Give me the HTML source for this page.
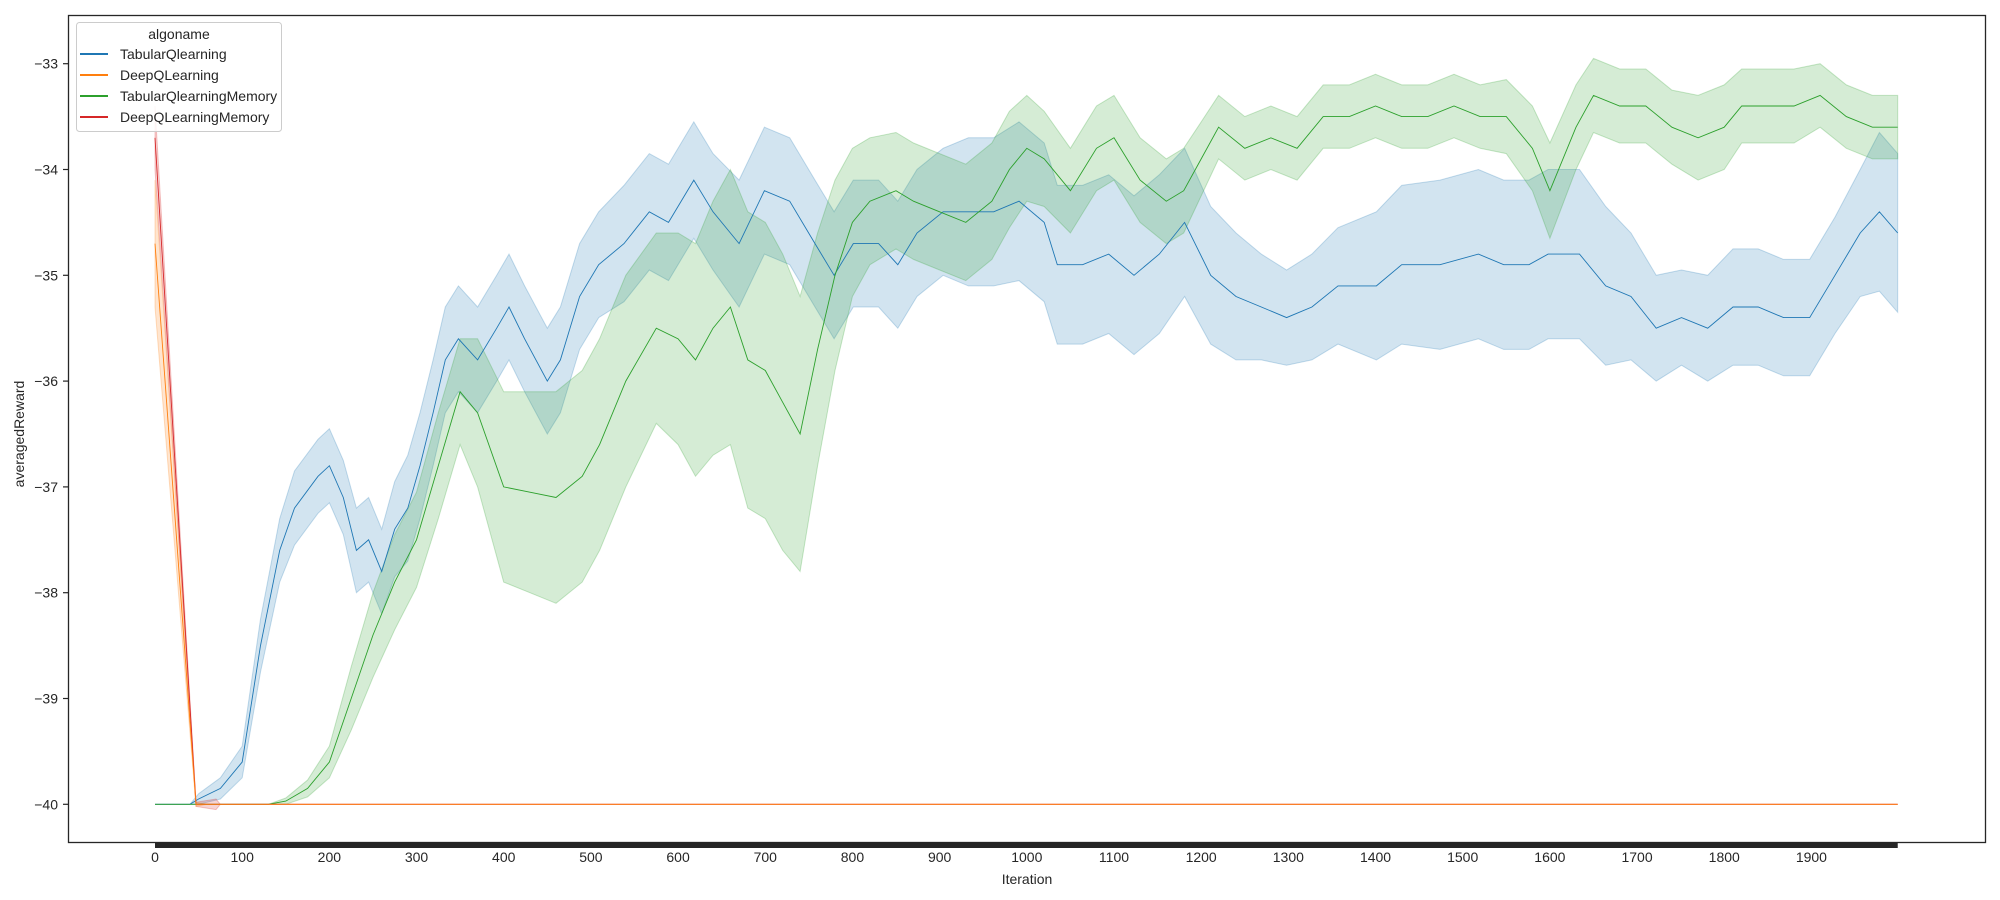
<!DOCTYPE html>
<html><head><meta charset="utf-8"><style>
body{margin:0;background:#fff;}
svg{display:block;font-family:"Liberation Sans",Arial,sans-serif;}
</style></head><body>
<svg id="chart" width="2000" height="900" viewBox="0 0 2000 900">
<rect x="0" y="0" width="2000" height="900" fill="#fff"/>
<g id="bands"></g><g id="lines"></g><g id="axes"></g>
<rect x="68.5" y="15.5" width="1917" height="827" fill="none" stroke="#262626" stroke-width="1.3"/>
<g>
<rect x="76.5" y="22.5" width="205" height="109" rx="3" fill="#fff" fill-opacity="0.85" stroke="#ccc"/>
<text x="179" y="39" font-size="14" text-anchor="middle" fill="#262626">algoname</text>
<line x1="80" y1="54" x2="108" y2="54" stroke="#1f77b4" stroke-width="2"/>
<text x="120" y="59" font-size="14" fill="#262626">TabularQlearning</text>
<line x1="80" y1="75" x2="108" y2="75" stroke="#ff7f0e" stroke-width="2"/>
<text x="120" y="80" font-size="14" fill="#262626">DeepQLearning</text>
<line x1="80" y1="96" x2="108" y2="96" stroke="#2ca02c" stroke-width="2"/>
<text x="120" y="101" font-size="14" fill="#262626">TabularQlearningMemory</text>
<line x1="80" y1="117" x2="108" y2="117" stroke="#d62728" stroke-width="2"/>
<text x="120" y="122" font-size="14" fill="#262626">DeepQLearningMemory</text>
</g>
<text x="1027" y="884" font-size="14" text-anchor="middle" fill="#262626">Iteration</text>
<text x="0" y="0" font-size="14" text-anchor="middle" fill="#262626" transform="translate(24,434) rotate(-90)">averagedReward</text>
</svg>
<script>
const blueIter=[0,40,50,75,100,121,143,160,187,200,216,231,245,260,275,290,304,319,333,348,370,392,406,424,450,465,487,509,538,567,589,618,640,670,699,728,757,779,801,830,852,874,904,933,962,991,1020,1035,1064,1094,1123,1152,1181,1211,1240,1269,1298,1327,1357,1401,1430,1474,1518,1547,1576,1598,1634,1664,1693,1722,1751,1781,1810,1839,1868,1898,1927,1956,1978,1999];
const blueMean=[-40,-40,-39.95,-39.85,-39.6,-38.5,-37.6,-37.2,-36.9,-36.8,-37.1,-37.6,-37.5,-37.8,-37.4,-37.2,-36.8,-36.3,-35.8,-35.6,-35.8,-35.5,-35.3,-35.6,-36.0,-35.8,-35.2,-34.9,-34.7,-34.4,-34.5,-34.1,-34.4,-34.7,-34.2,-34.3,-34.7,-35.0,-34.7,-34.7,-34.9,-34.6,-34.4,-34.4,-34.4,-34.3,-34.5,-34.9,-34.9,-34.8,-35.0,-34.8,-34.5,-35.0,-35.2,-35.3,-35.4,-35.3,-35.1,-35.1,-34.9,-34.9,-34.8,-34.9,-34.9,-34.8,-34.8,-35.1,-35.2,-35.5,-35.4,-35.5,-35.3,-35.3,-35.4,-35.4,-35.0,-34.6,-34.4,-34.6];
const blueHalf=[0,0,0.05,0.1,0.15,0.25,0.3,0.35,0.35,0.35,0.35,0.4,0.4,0.4,0.45,0.5,0.5,0.5,0.5,0.5,0.5,0.5,0.5,0.5,0.5,0.5,0.5,0.5,0.55,0.55,0.55,0.55,0.55,0.6,0.6,0.6,0.6,0.6,0.6,0.6,0.6,0.6,0.6,0.7,0.7,0.75,0.75,0.75,0.75,0.75,0.75,0.75,0.7,0.65,0.6,0.5,0.45,0.5,0.55,0.7,0.75,0.8,0.8,0.8,0.8,0.8,0.8,0.75,0.6,0.5,0.45,0.5,0.55,0.55,0.55,0.55,0.55,0.6,0.75,0.75];
const greenIter=[0,130,150,175,200,225,250,275,300,325,350,370,400,430,460,490,510,540,575,600,620,640,660,680,700,720,740,760,780,800,820,850,870,900,930,960,980,1000,1020,1050,1080,1100,1130,1160,1180,1200,1220,1250,1280,1310,1340,1370,1400,1430,1460,1490,1520,1550,1580,1600,1630,1650,1680,1710,1740,1770,1800,1820,1850,1880,1910,1940,1970,1999];
const greenMean=[-40,-40,-39.97,-39.85,-39.6,-39.0,-38.4,-37.9,-37.5,-36.8,-36.1,-36.3,-37.0,-37.05,-37.1,-36.9,-36.6,-36.0,-35.5,-35.6,-35.8,-35.5,-35.3,-35.8,-35.9,-36.2,-36.5,-35.7,-35.0,-34.5,-34.3,-34.2,-34.3,-34.4,-34.5,-34.3,-34.0,-33.8,-33.9,-34.2,-33.8,-33.7,-34.1,-34.3,-34.2,-33.9,-33.6,-33.8,-33.7,-33.8,-33.5,-33.5,-33.4,-33.5,-33.5,-33.4,-33.5,-33.5,-33.8,-34.2,-33.6,-33.3,-33.4,-33.4,-33.6,-33.7,-33.6,-33.4,-33.4,-33.4,-33.3,-33.5,-33.6,-33.6];
const greenHalf=[0,0,0.03,0.08,0.15,0.3,0.4,0.45,0.45,0.5,0.5,0.7,0.9,0.95,1.0,1.0,1.0,1.0,0.9,1.0,1.1,1.2,1.3,1.4,1.4,1.4,1.3,1.1,0.9,0.7,0.6,0.55,0.55,0.55,0.55,0.55,0.55,0.5,0.45,0.4,0.4,0.4,0.4,0.4,0.4,0.35,0.3,0.3,0.3,0.3,0.3,0.3,0.3,0.3,0.3,0.3,0.3,0.35,0.4,0.45,0.4,0.35,0.35,0.35,0.35,0.4,0.4,0.35,0.35,0.35,0.3,0.3,0.3,0.3];
const deepIter=[0,47,60,1999];
const deepMean=[-34.7,-40,-40,-40];
const deepHalf=[0.6,0.02,0,0];
const deepMemIter=[0,47,70,75,1999];
const deepMemMean=[-33.7,-40,-40,-40,-40];
const deepMemHalf=[0.3,0.02,0.05,0,0];
const yTicks=[-33,-34,-35,-36,-37,-38,-39,-40];
const xTicks=[0,100,200,300,400,500,600,700,800,900,1000,1100,1200,1300,1400,1500,1600,1700,1800,1900];

const NS='http://www.w3.org/2000/svg';
function X(i){return 155+i*0.8718;}
function Y(v){return 804.3-(v+40)*105.8;}
function mk(tag,attrs,parent){const e=document.createElementNS(NS,tag);for(const k in attrs)e.setAttribute(k,attrs[k]);parent.appendChild(e);return e;}
const bands=document.getElementById('bands'),lines=document.getElementById('lines'),axes=document.getElementById('axes');
function series(name,it,m,h,color){
  let up=it.map((d,k)=>X(d).toFixed(1)+','+Y(m[k]+h[k]).toFixed(1));
  let lo=it.map((d,k)=>X(d).toFixed(1)+','+Y(m[k]-h[k]).toFixed(1)).reverse();
  const b=mk('polygon',{points:up.concat(lo).join(' '),fill:color,'fill-opacity':0.2,stroke:color,'stroke-opacity':0.25,'stroke-width':1},bands);
  
  
  const l=mk('polyline',{points:it.map((d,k)=>X(d).toFixed(1)+','+Y(m[k]).toFixed(1)).join(' '),fill:'none',stroke:color,'stroke-width':0.9},lines);
  
  
}
series('tabular-qlearning',blueIter,blueMean,blueHalf,'#1f77b4');
series('tabular-qlearning-memory',greenIter,greenMean,greenHalf,'#2ca02c');
series('deep-qlearning-memory',deepMemIter,deepMemMean,deepMemHalf,'#d62728');
series('deep-qlearning',deepIter,deepMean,deepHalf,'#ff7f0e');
yTicks.forEach(v=>{
  const t=mk('line',{x1:63,x2:68.5,y1:Y(v),y2:Y(v),stroke:'#262626','stroke-width':1.2},axes);
  
  
  const s=mk('text',{x:58,y:Y(v)+5,'font-size':14,'text-anchor':'end',fill:'#262626'},axes);
  s.textContent='\u2212'+Math.abs(v);
  
  
});
const bar=mk('rect',{x:X(0),y:842,width:X(1999)-X(0),height:6,fill:'#262626'},axes);


xTicks.forEach(v=>{
  const s=mk('text',{x:X(v),y:862,'font-size':14,'text-anchor':'middle',fill:'#262626'},axes);
  s.textContent=v;
  
  
});
</script>
</body></html>
